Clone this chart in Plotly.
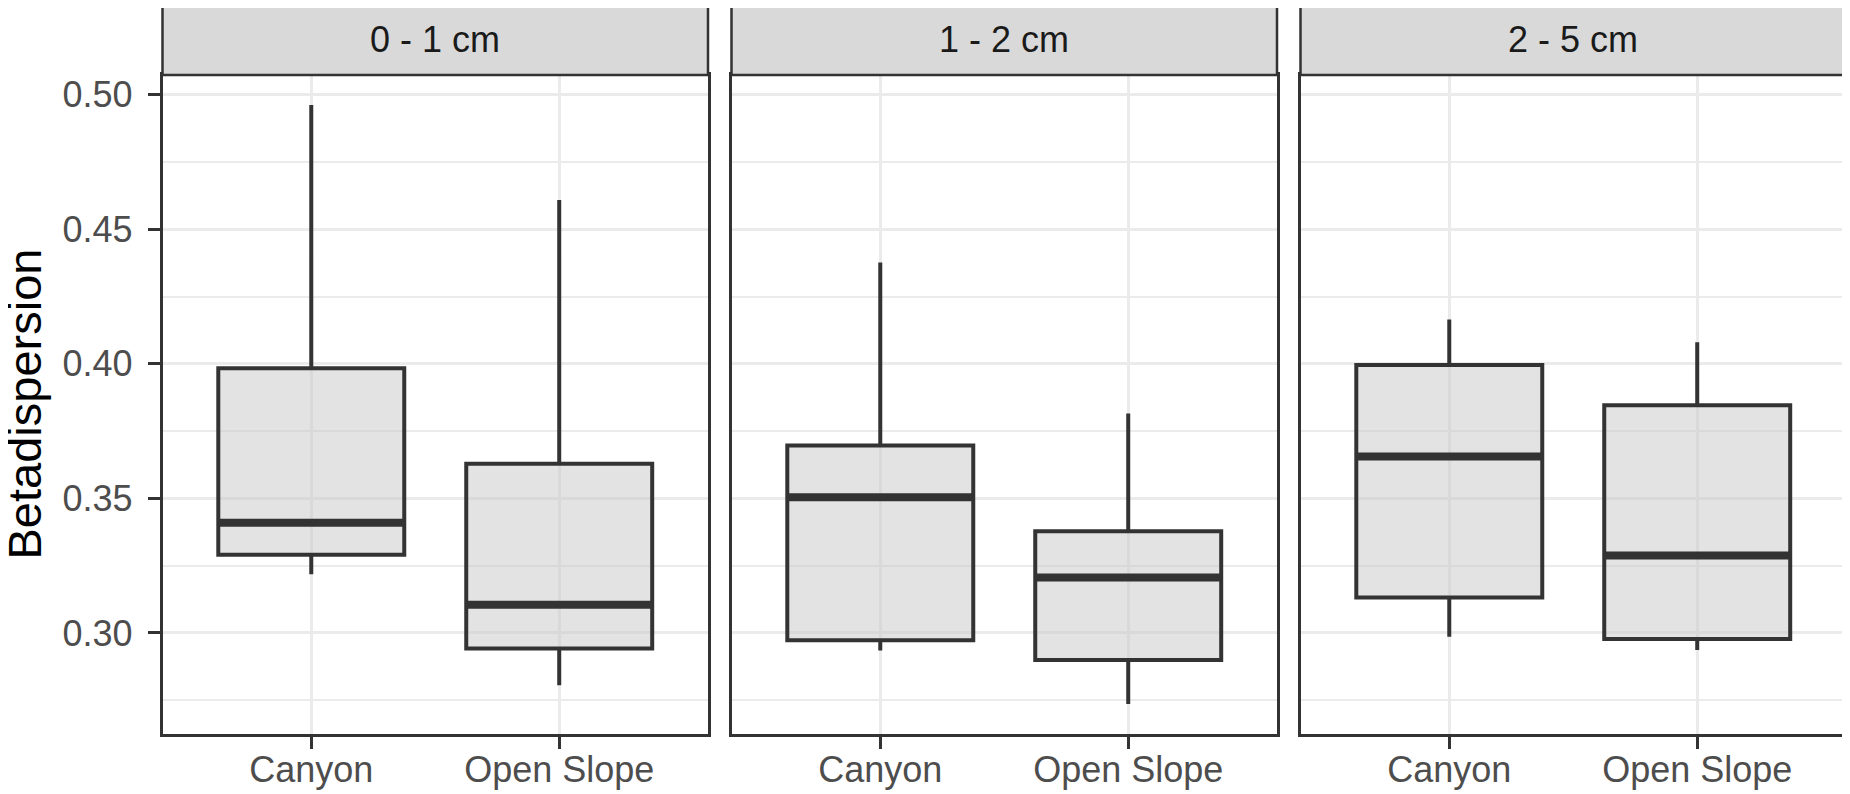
# Betadispersion boxplots by depth layer

import plotly.graph_objects as go

depths = ['0 - 1 cm', '1 - 2 cm', '2 - 5 cm']
sites = ['Canyon', 'Open Slope']
site_pos = [1, 2]

# summary stats per depth, [Canyon, Open Slope]
lower = [[0.3218, 0.2806], [0.2935, 0.2736], [0.2986, 0.2937]]
q1 = [[0.3291, 0.2942], [0.2973, 0.2900], [0.3132, 0.2978]]
median = [[0.3410, 0.3105], [0.3504, 0.3206], [0.3656, 0.3288]]
q3 = [[0.3984, 0.3629], [0.3697, 0.3378], [0.3996, 0.3846]]
upper = [[0.4962, 0.4609], [0.4377, 0.3816], [0.4165, 0.4080]]

# the page body has an 8px margin, so the figure is drawn inside it
off = 8
W, H = 1850 - off, 794 - off
dark = '#333333'
grid = '#EBEBEB'
font = 'Liberation Sans, Arial, Helvetica, sans-serif'
box_w = 0.75

# panel geometry in window pixels
left, pw, gap = 162.5 - off, 545.5, 23.5
top, bottom, strip_top = 75 - off, 734 - off, 3 - off

ymin = min(min(r) for r in lower)
ymax = max(max(r) for r in upper)
pad = (ymax - ymin) * 0.05
yrange = [ymin - pad, ymax + pad]

fig = go.Figure()

for i, d in enumerate(depths):
    xa = 'x' if i == 0 else 'x%d' % (i + 1)
    ya = 'y' if i == 0 else 'y%d' % (i + 1)
    fig.add_trace(go.Box(
        x=site_pos, q1=q1[i], median=median[i], q3=q3[i],
        lowerfence=lower[i], upperfence=upper[i],
        width=box_w, whiskerwidth=0, boxpoints=False,
        fillcolor='rgba(200,200,200,0.5)',
        line=dict(color=dark, width=4),
        xaxis=xa, yaxis=ya, showlegend=False, hoverinfo='skip'
    ))
    # thicker median bar, like ggplot's fatten
    mx, my = [], []
    for p, m in zip(site_pos, median[i]):
        mx += [p - box_w / 2, p + box_w / 2, None]
        my += [m, m, None]
    fig.add_trace(go.Scatter(
        x=mx, y=my, mode='lines', line=dict(color=dark, width=8),
        xaxis=xa, yaxis=ya, showlegend=False, hoverinfo='skip'
    ))

    x0 = left + i * (pw + gap)
    dom = [x0 / W, min((x0 + pw) / W, 1)]
    sfx = '' if i == 0 else str(i + 1)
    fig.layout['xaxis' + sfx] = dict(
        domain=dom, anchor=ya, range=[0.4, 2.6], automargin=False,
        tickmode='array', tickvals=site_pos, ticktext=sites,
        ticks='outside', ticklen=12, tickwidth=2.5, tickcolor=dark,
        tickfont=dict(size=36, color='#4D4D4D', family=font),
        ticklabelstandoff=-10,
        showgrid=True, gridcolor=grid, gridwidth=2.5, zeroline=False,
        showline=True, mirror=True, linecolor=dark, linewidth=2.5,
    )
    yax = dict(
        domain=[1 - bottom / H, 1 - top / H], anchor=xa, range=yrange,
        automargin=False,
        tickmode='linear', tick0=0, dtick=0.05, tickformat='.2f',
        showgrid=True, gridcolor=grid, gridwidth=2.5, zeroline=False,
        minor=dict(tickmode='linear', tick0=0.275, dtick=0.05,
                   showgrid=True, gridcolor=grid, gridwidth=1.5),
        showline=True, mirror=True, linecolor=dark, linewidth=2.5,
    )
    if i == 0:
        yax.update(ticks='outside', ticklen=12, tickwidth=2.5, tickcolor=dark,
                   tickfont=dict(size=36, color='#4D4D4D', family=font),
                   ticklabelstandoff=8)
    else:
        yax.update(matches='y', showticklabels=False, ticks='')
    fig.layout['yaxis' + sfx] = yax

    # facet strip
    fig.add_shape(type='rect', xref=xa + ' domain', yref='paper',
                  x0=0, x1=1, y0=1 - top / H, y1=1 - strip_top / H,
                  fillcolor='#D9D9D9', line=dict(color=dark, width=2.5),
                  layer='above')
    fig.add_annotation(text=d, xref=xa + ' domain', yref='paper',
                       x=0.5, y=1 - (top + strip_top) / 2 / H,
                       xanchor='center', yanchor='middle', showarrow=False,
                       font=dict(size=36, color='#1A1A1A', family=font))

fig.add_annotation(text='Betadispersion', textangle=-90,
                   xref='paper', yref='paper',
                   x=(24 - off) / W, y=1 - (top + bottom) / 2 / H,
                   xanchor='center', yanchor='middle', showarrow=False,
                   borderpad=0,
                   font=dict(size=47, color='black', family=font))

fig.update_layout(
    width=W, height=H,
    margin=dict(l=0, r=0, t=0, b=0),
    paper_bgcolor='white', plot_bgcolor='white',
    font=dict(family=font),
)

fig.write_html('out.html')
